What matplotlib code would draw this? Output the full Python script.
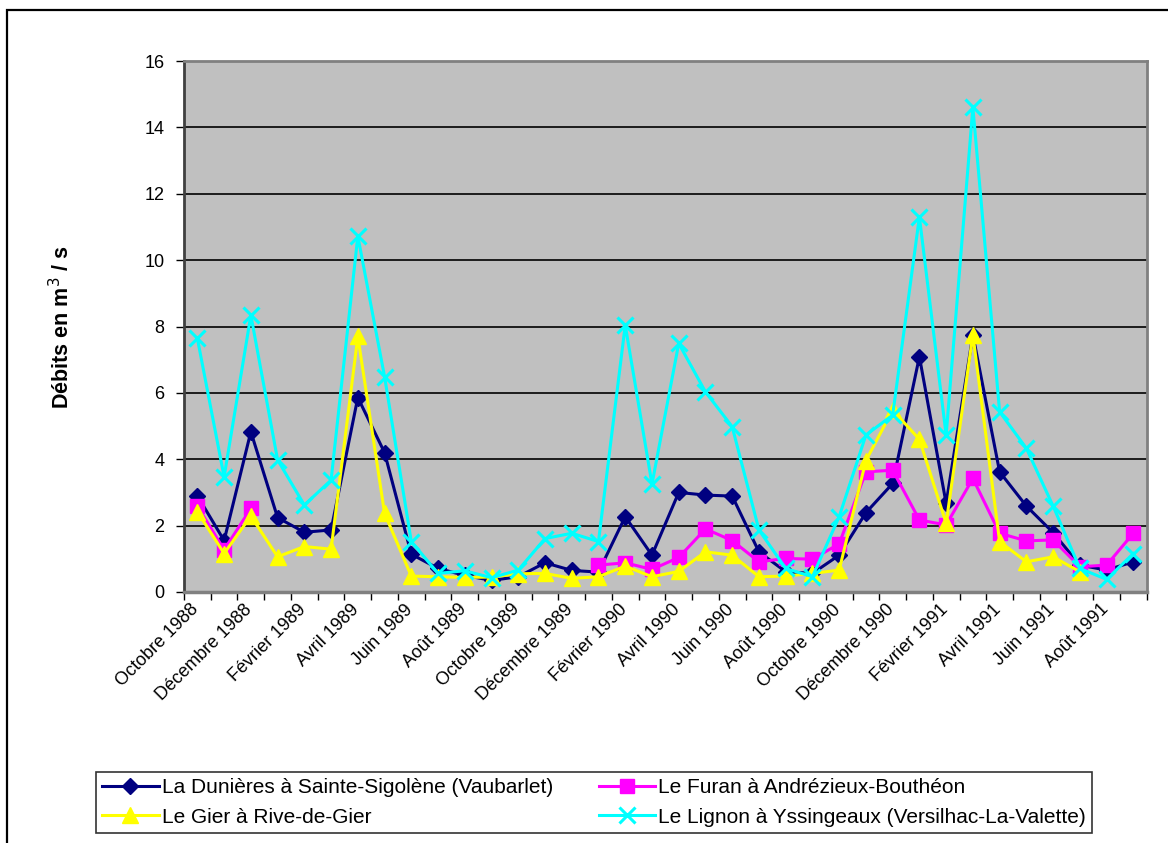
import numpy as np
import matplotlib
matplotlib.use("Agg")
import matplotlib.pyplot as plt
from matplotlib.patches import Rectangle
from matplotlib.transforms import ScaledTranslation

plt.rcParams['font.family'] = ['Liberation Sans', 'DejaVu Sans']

categories = ['Octobre 1988', 'Novembre 1988', 'Décembre 1988', 'Janvier 1989', 'Février 1989',
              'Mars 1989', 'Avril 1989', 'Mai 1989', 'Juin 1989', 'Juillet 1989', 'Août 1989',
              'Septembre 1989', 'Octobre 1989', 'Novembre 1989', 'Décembre 1989', 'Janvier 1990',
              'Février 1990', 'Mars 1990', 'Avril 1990', 'Mai 1990', 'Juin 1990', 'Juillet 1990',
              'Août 1990', 'Septembre 1990', 'Octobre 1990', 'Novembre 1990', 'Décembre 1990',
              'Janvier 1991', 'Février 1991', 'Mars 1991', 'Avril 1991', 'Mai 1991', 'Juin 1991',
              'Juillet 1991', 'Août 1991', 'Septembre 1991']

nan = np.nan
dunieres = [2.9, 1.55, 4.83, 2.24, 1.8, 1.87, 5.86, 4.2, 1.14, 0.71, 0.5, 0.35, 0.46, 0.88, 0.65,
            0.6, 2.27, 1.11, 3.0, 2.92, 2.89, 1.21, 0.61, 0.56, 1.11, 2.39, 3.27, 7.09, 2.67, 7.75,
            3.62, 2.59, 1.79, 0.81, 0.66, 0.91]
furan = [2.59, 1.27, 2.52, nan, nan, nan, nan, nan, nan, nan, nan, nan, nan, nan, nan,
         0.81, 0.88, 0.68, 1.04, 1.9, 1.55, 0.91, 1.01, 0.99, 1.45, 3.62, 3.67, 2.17, 2.02, 3.42,
         1.77, 1.54, 1.57, 0.76, 0.81, 1.77]
gier = [2.42, 1.16, 2.29, 1.06, 1.37, 1.29, 7.7, 2.37, 0.48, 0.46, 0.44, 0.45, 0.55, 0.56, 0.41,
        0.46, 0.78, 0.46, 0.62, 1.21, 1.11, 0.46, 0.48, 0.56, 0.66, 3.96, 5.48, 4.6, 2.07, 7.75,
        1.52, 0.91, 1.06, 0.61, nan, nan]
lignon = [7.64, 3.47, 8.34, 3.98, 2.62, 3.37, 10.72, 6.49, 1.52, 0.56, 0.64, 0.43, 0.66, 1.61, 1.77,
          1.52, 8.04, 3.25, 7.49, 6.03, 4.98, 1.87, 0.71, 0.46, 2.27, 4.73, 5.33, 11.3, 4.73, 14.6,
          5.43, 4.33, 2.59, 0.71, 0.38, 1.16]

series_names = ['La Dunières à Sainte-Sigolène (Vaubarlet)', 'Le Furan à Andrézieux-Bouthéon',
                'Le Gier à Rive-de-Gier', 'Le Lignon à Yssingeaux (Versilhac-La-Valette)']
y_label = 'Débits en m$^3$ / s'

W, H = 1168, 843
fig = plt.figure(figsize=(W / 100, H / 100), dpi=100)
fig.patch.set_facecolor('white')

# outer chart border (only top/left visible)
fig.patches.append(Rectangle((7 / W, 1 - 846 / H), (1175 - 7) / W, (846 - 10) / H,
                             transform=fig.transFigure, fill=False, edgecolor='black',
                             linewidth=1.6, zorder=0))

ax = fig.add_axes([184 / W, 1 - 592 / H, (1146.7 - 184) / W, (592 - 61) / H])
ax.set_facecolor('#C0C0C0')

x = np.arange(len(categories))
styles = [
    dict(color='#000080', marker='D', markersize=8.5, mfc='#000080', mec='#000080'),
    dict(color='#FF00FF', marker='s', markersize=10, mfc='#FF00FF', mec='#FF00FF'),
    dict(color='#FFFF00', marker='^', markersize=11, mfc='#FFFF00', mec='#FFFF00'),
    dict(color='#00FFFF', marker='x', markersize=11, mfc='#00FFFF', mec='#00FFFF', mew=2.2),
]
handles = []
for data, name, st in zip([dunieres, furan, gier, lignon], series_names, styles):
    h, = ax.plot(x, data, linewidth=2.2, label=name, clip_on=False, **st)
    handles.append(h)

ax.set_xlim(-0.5, len(categories) - 0.5)
ax.set_ylim(0, 16)
ax.set_yticks(np.arange(0, 17, 2))
ax.yaxis.grid(True, color='black', linewidth=1.2)
ax.set_axisbelow(True)

# category boundary ticks
ax.set_xticks(np.arange(-0.5, len(categories), 1))
ax.set_xticklabels([])
ax.tick_params(axis='x', which='major', length=6, width=1, color='black', direction='out')
ax.tick_params(axis='y', length=6, width=1, color='black', direction='out', labelsize=13, pad=8)

# rotated category labels on every other category
label_tr = ax.get_xaxis_transform() + ScaledTranslation(-7 / 100, -9 / 100, fig.dpi_scale_trans)
for xi, cat in zip(x[::2], categories[::2]):
    ax.text(xi, 0, cat, transform=label_tr, rotation=45, ha='right', va='top',
            rotation_mode='anchor', fontsize=13, clip_on=False)

for s in ['top', 'right']:
    ax.spines[s].set_color('#808080')
    ax.spines[s].set_linewidth(2)
ax.spines['left'].set_color('#404040')
ax.spines['left'].set_linewidth(2)
ax.spines['bottom'].set_color('#808080')
ax.spines['bottom'].set_linewidth(2.5)

fig.text(62 / W, 1 - 327 / H, y_label, rotation=90, ha='center', va='center',
         fontsize=15.5, fontweight='bold')

leg = fig.legend([handles[0], handles[2], handles[1], handles[3]],
                 [series_names[0], series_names[2], series_names[1], series_names[3]],
                 ncol=2, loc='lower left', bbox_to_anchor=(96 / W, 1 - 833 / H),
                 frameon=True, fancybox=False, edgecolor='black', fontsize=15,
                 handlelength=2.7, handletextpad=0.15, columnspacing=2.2,
                 labelspacing=0.5, borderpad=0.3, borderaxespad=0)
leg.get_frame().set_linewidth(1.2)

fig.savefig('out.png', dpi=100, facecolor='white')
